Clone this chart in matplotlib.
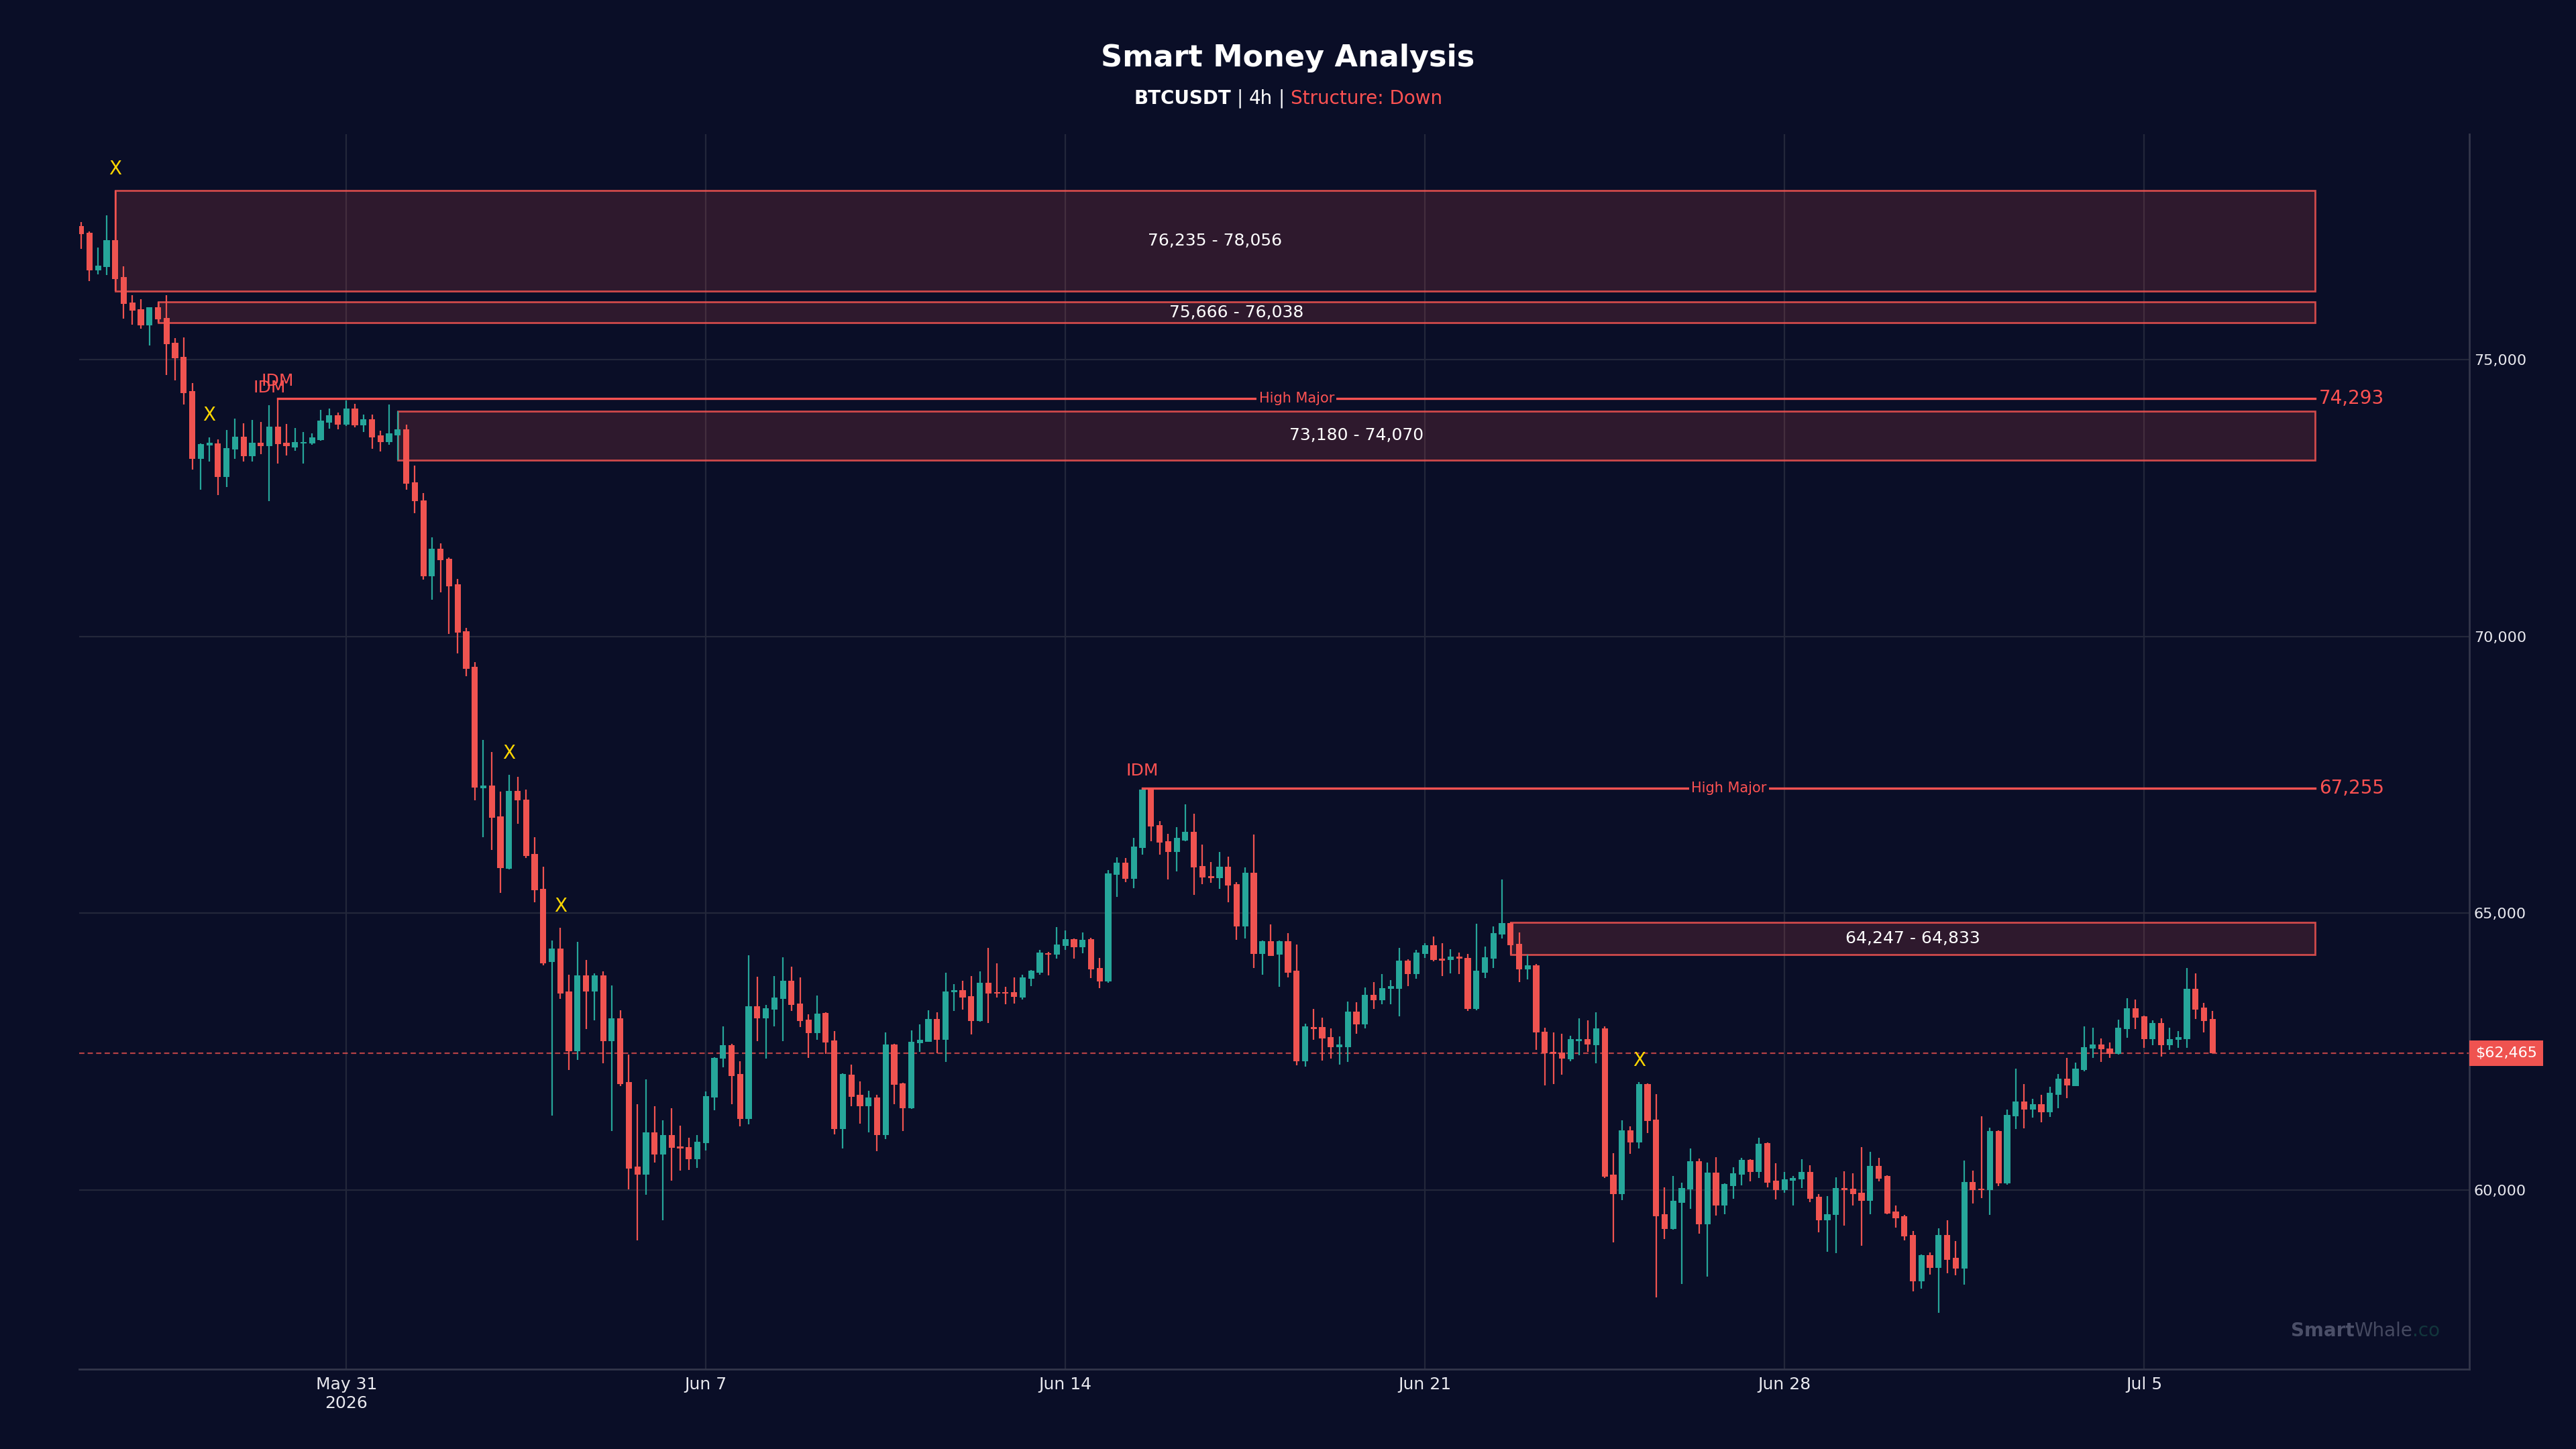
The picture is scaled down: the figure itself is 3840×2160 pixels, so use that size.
import numpy as np
import pandas as pd
import matplotlib
matplotlib.use("Agg")
import matplotlib.pyplot as plt
import matplotlib.dates as mdates
import matplotlib.transforms as mtransforms
from matplotlib.patches import Rectangle
from matplotlib.ticker import FuncFormatter, MultipleLocator

# ---------------- data ----------------
symbol = "BTCUSDT"
timeframe = "4h"
structure = "Down"
start_time = "2026-05-25 20:00"

opens = [
    77409, 77288, 76610, 76668, 77156, 76484, 76032, 75906, 75611, 75948,
    75748, 75307, 75049, 74424, 73205, 73451, 73483, 72879, 73373, 73604,
    73252, 73493, 73441, 73783, 73493, 73415, 73483, 73483, 73546, 73861,
    73988, 73825, 74114, 73814, 73925, 73625, 73504, 73635, 73741, 72784,
    72458, 71087, 71576, 71404, 70938, 70089, 69446, 67261, 67303, 66744,
    65801, 67210, 67054, 66070, 65439, 64113, 64362, 63585, 62508, 63875,
    63585, 63875, 62684, 63098, 61948, 60426, 60271, 61037, 60644, 60996,
    60789, 60768, 60551, 60841, 61669, 62373, 62612, 62094, 61286, 63316,
    63098, 63254, 63451, 63772, 63368, 63079, 62828, 63195, 62703, 61094,
    62086, 61715, 61507, 61674, 60992, 62624, 61929, 61474, 62652, 62680,
    63093, 62708, 63566, 63612, 63505, 63055, 63746, 63575, 63575, 63566,
    63477, 63816, 63923, 64275, 64247, 64409, 64535, 64382, 64535, 64006,
    63765, 65690, 65912, 65621, 66174, 67240, 66591, 66299, 66109, 66315,
    66472, 65855, 65666, 65628, 65834, 65525, 64757, 65731, 64260, 64497,
    64249, 64497, 63962, 62329, 62940, 62940, 62761, 62583, 62583, 63216,
    62988, 63529, 63421, 63632, 63632, 64146, 63897, 64260, 64416, 64178,
    64151, 64216, 64195, 63270, 63919, 64178, 64611, 64821, 64443, 63981,
    64054, 62858, 62496, 62479, 62357, 62691, 62719, 62619, 62913, 60271,
    59920, 61078, 60855, 61912, 61267, 59559, 59297, 59765, 60004, 60521,
    59381, 60310, 59715, 60065, 60271, 60543, 60327, 60844, 60171, 59993,
    60171, 60187, 60327, 59870, 59447, 59548, 60032, 60021, 59948, 59798,
    60435, 60253, 59611, 59524, 59189, 58355, 58820, 58595, 59189, 58772,
    58581, 60138, 60018, 59994, 61058, 60114, 61326, 61599, 61446, 61551,
    61398, 61723, 62006, 61877, 62164, 62548, 62624, 62557, 62452, 62902,
    63285, 63132, 62725, 63012, 62615, 62711, 62725, 63635, 63290, 63084,
]
highs = [
    77477, 77319, 77025, 77598, 78056, 76683, 76158, 76084, 75948, 76038,
    76158, 75385, 75396, 74571, 73483, 73599, 73562, 73730, 73935, 73851,
    73909, 73872, 74177, 74293, 73830, 73767, 73688, 73662, 74088, 74119,
    74040, 74256, 74203, 74004, 74004, 73714, 74187, 74070, 73820, 73084,
    72590, 71786, 71681, 71430, 71031, 70151, 69529, 68131, 67914, 67199,
    67499, 67458, 67230, 66371, 65843, 64507, 64734, 63886, 64476, 64155,
    63916, 63948, 63689, 63243, 62446, 61545, 62000, 61514, 61255, 61472,
    61162, 60944, 60986, 61773, 62394, 62953, 62643, 62322, 64237, 63855,
    63336, 63864, 64196, 64030, 63844, 63176, 63515, 63210, 62875, 62110,
    62263, 61957, 61785, 61720, 62847, 62633, 61940, 62884, 62986, 63246,
    63213, 63918, 63714, 63779, 63858, 63946, 64372, 64089, 63672, 63834,
    63886, 63970, 64331, 64303, 64748, 64692, 64544, 64646, 64550, 64187,
    65783, 66005, 65993, 66356, 67255, 67248, 66666, 66434, 66553, 66969,
    66796, 66234, 65920, 66099, 66023, 65558, 65828, 66423, 64508, 64795,
    64510, 64638, 64433, 63000, 63270, 63107, 62913, 62772, 63405, 63389,
    63654, 63757, 63897, 63789, 64373, 64168, 64341, 64460, 64578, 64460,
    64346, 64292, 64265, 64806, 64395, 64757, 65612, 64833, 64649, 64249,
    64082, 62924, 62841, 62824, 62786, 63102, 63064, 63214, 62952, 60660,
    61255, 61150, 61951, 61925, 61734, 60043, 60254, 60132, 60744, 60566,
    60493, 60588, 60115, 60410, 60577, 60555, 60939, 60855, 60477, 60327,
    60254, 60549, 60449, 59926, 59893, 60226, 60338, 60299, 60772, 60684,
    60583, 60267, 59716, 59548, 59261, 58830, 58868, 59309, 59453, 59074,
    60535, 60344, 61335, 61120, 61070, 61455, 62193, 61910, 61647, 61719,
    61858, 62088, 62389, 62294, 62955, 62931, 62739, 62667, 63075, 63458,
    63443, 63145, 63060, 63099, 62931, 62869, 64004, 63908, 63381, 63237,
]
lows = [
    77004, 76421, 76541, 76526, 76235, 75737, 75627, 75553, 75259, 75666,
    74718, 74623, 74192, 73015, 72653, 73162, 72548, 72695, 73205, 73152,
    73162, 73294, 72442, 73126, 73268, 73352, 73126, 73457, 73536, 73756,
    73741, 73799, 73772, 73688, 73388, 73336, 73457, 73180, 72653, 72222,
    71024, 70656, 70798, 70037, 69695, 69281, 67034, 66371, 66143, 65366,
    65791, 66609, 66000, 65190, 64051, 61338, 63451, 62166, 62343, 62902,
    63057, 62291, 61069, 61880, 60012, 59090, 59909, 60489, 59453, 60168,
    60354, 60364, 60395, 60717, 61441, 62218, 61545, 61151, 61183, 62684,
    62373, 62953, 62684, 63233, 62943, 62383, 62708, 62453, 61001, 60746,
    61516, 61191, 61038, 60695, 60922, 61548, 61066, 61460, 62499, 62670,
    62471, 62309, 63236, 63260, 62805, 63040, 63014, 63473, 63357, 63366,
    63440, 63686, 63886, 63872, 64182, 64331, 64182, 64280, 63830, 63649,
    63740, 65294, 65561, 65456, 66053, 66296, 66055, 65612, 65758, 66299,
    65325, 65520, 65552, 65433, 65201, 64519, 64541, 64011, 63881, 64222,
    63665, 63843, 62253, 62231, 62707, 62339, 62372, 62269, 62312, 62826,
    62918, 63270, 63356, 63356, 63140, 63681, 63816, 64189, 64124, 63865,
    63908, 63903, 63227, 63250, 63827, 64005, 64541, 64247, 63759, 63803,
    62524, 61884, 61912, 62079, 62329, 62429, 62496, 62290, 60220, 59058,
    59815, 60649, 60744, 61033, 58062, 59114, 59280, 58296, 59659, 59214,
    58435, 59537, 59559, 59837, 60076, 60160, 60215, 60048, 59826, 59948,
    59715, 60032, 59781, 59231, 58880, 58864, 59353, 59715, 58991, 59564,
    60152, 59563, 59323, 59093, 58173, 58221, 58475, 57776, 58499, 58461,
    58293, 59754, 59850, 59548, 60075, 60100, 61096, 61110, 61302, 61225,
    61312, 61474, 61656, 61872, 62140, 62380, 62308, 62380, 62442, 62749,
    62902, 62567, 62619, 62404, 62533, 62567, 62572, 63089, 62845, 62465,
]
closes = [
    77267, 76610, 76694, 77156, 76457, 76005, 75879, 75611, 75948, 75722,
    75275, 75017, 74397, 73205, 73467, 73493, 72879, 73399, 73604, 73252,
    73493, 73430, 73783, 73467, 73430, 73504, 73514, 73588, 73898, 73988,
    73825, 74114, 73809, 73925, 73599, 73504, 73662, 73741, 72758, 72442,
    71087, 71576, 71376, 70907, 70068, 69415, 67272, 67303, 66723, 65812,
    67210, 67034, 66029, 65408, 64093, 64362, 63544, 62508, 63875, 63585,
    63875, 62684, 63098, 61907, 60385, 60271, 61037, 60644, 60996, 60758,
    60748, 60551, 60872, 61690, 62384, 62612, 62063, 61286, 63316, 63098,
    63275, 63471, 63772, 63347, 63047, 62828, 63190, 62666, 61094, 62091,
    61683, 61507, 61674, 60992, 62624, 61901, 61474, 62671, 62708, 63093,
    62708, 63584, 63612, 63477, 63055, 63746, 63547, 63547, 63542, 63487,
    63844, 63955, 64289, 64256, 64433, 64525, 64382, 64516, 63983, 63765,
    65722, 65912, 65621, 66207, 67230, 66566, 66272, 66109, 66353, 66472,
    65828, 65639, 65628, 65834, 65493, 64757, 65731, 64260, 64497, 64227,
    64497, 63919, 62329, 62951, 62907, 62734, 62583, 62621, 63216, 62988,
    63529, 63421, 63648, 63675, 64146, 63897, 64292, 64416, 64151, 64146,
    64216, 64173, 63270, 63957, 64205, 64638, 64822, 64420, 63981, 64054,
    62841, 62468, 62457, 62368, 62719, 62719, 62624, 62913, 60243, 59920,
    61078, 60855, 61912, 61244, 59520, 59297, 59798, 60032, 60521, 59381,
    60310, 59715, 60104, 60299, 60543, 60327, 60838, 60132, 59993, 60187,
    60210, 60327, 59837, 59447, 59559, 60032, 59993, 59926, 59798, 60435,
    60209, 59577, 59491, 59156, 58355, 58820, 58595, 59189, 58739, 58581,
    60138, 59994, 59994, 61058, 60114, 61350, 61599, 61446, 61551, 61407,
    61752, 62006, 61886, 62188, 62581, 62624, 62543, 62452, 62926, 63285,
    63108, 62725, 63012, 62615, 62725, 62758, 63635, 63261, 63051, 62465,
]

# order blocks (start candle index, low, high)
zone_start = [4, 9, 37, 167]
zone_low = [76235, 75666, 73180, 64247]
zone_high = [78056, 76038, 74070, 64833]

# high-major (IDM) levels
major_start = [23, 124]
major_level = [74293, 67255]
major_label = ["High Major", "High Major"]

idm_idx = [22, 23, 124]
sweep_idx = [4, 15, 50, 56, 182]

# ---------------- style ----------------
BG = "#0a0e27"
GREEN = "#26a69a"
RED = "#ef5350"
RED_TXT = "#ff5252"
GRID = "#23273a"
SPINE = "#33364a"
TXT = "#e8e8ee"
GOLD = "#ffd700"

dates = pd.date_range(start_time, periods=len(opens), freq="4h")
x = mdates.date2num(dates.to_pydatetime())
o = np.array(opens, float)
h = np.array(highs, float)
l = np.array(lows, float)
c = np.array(closes, float)
up = c >= o
cols = np.where(up, GREEN, RED)

DPI = 200
fig = plt.figure(figsize=(19.2, 10.8), dpi=DPI, facecolor=BG)
ax = fig.add_axes([0.0306, 0.0551, 0.928, 0.8523])
ax.set_facecolor(BG)

# candles
body_w = 0.72 * (4 / 24)
ax.vlines(x, l, h, colors=cols, linewidth=0.8, zorder=3)
body_h = np.maximum(np.abs(c - o), 12)
ax.bar(x, body_h, bottom=np.minimum(o, c), width=body_w, color=cols,
       linewidth=0, zorder=4)

x_end = x[-1] + 2.0  # zones / levels extend 2 days past the last candle

# zones
for si, lo, hi in zip(zone_start, zone_low, zone_high):
    x0 = x[si]
    ax.add_patch(Rectangle((x0, lo), x_end - x0, hi - lo,
                           facecolor=(0.937, 0.325, 0.314, 0.16),
                           edgecolor=(0.937, 0.325, 0.314, 0.85),
                           linewidth=1.0, zorder=2))
    ax.text((x0 + x_end) / 2, (lo + hi) / 2, f"{lo:,.0f} - {hi:,.0f}",
            color="white", fontsize=9, ha="center", va="center", zorder=6)

# high major lines
for si, lvl, lab in zip(major_start, major_level, major_label):
    x0 = x[si]
    ax.plot([x0, x_end], [lvl, lvl], color=RED_TXT, linewidth=1.2, zorder=5)
    ax.text((x0 + x_end) / 2, lvl, lab, color=RED_TXT, fontsize=7.5,
            ha="center", va="center", zorder=6,
            bbox=dict(boxstyle="square,pad=0.15", fc=BG, ec="none"))
    ax.annotate(f"{lvl:,.0f}", xy=(x_end, lvl), xytext=(2, 0),
                textcoords="offset points", color=RED_TXT, fontsize=10,
                ha="left", va="center", zorder=6)

# IDM labels
for i in idm_idx:
    ax.text(x[i], h[i] + 315, "IDM", color=RED_TXT, fontsize=9,
            ha="center", va="center", zorder=6)

# sweep markers
for i in sweep_idx:
    ax.text(x[i], h[i] + 390, "X", color=GOLD, fontsize=10,
            ha="center", va="center", zorder=6)

# current price
last = c[-1]
ax.axhline(last, color=RED, linewidth=0.8, linestyle=(0, (3.5, 2.2)),
           alpha=0.75, zorder=2.5)
trans = mtransforms.blended_transform_factory(ax.transAxes, ax.transData)
ax.text(1.0025, last, f"${last:,.0f}", transform=trans, color="white",
        fontsize=8, ha="left", va="center", zorder=7, clip_on=False,
        bbox=dict(boxstyle="square,pad=0.4", fc=RED, ec="none"))

# limits
rng = h.max() - l.min()
ax.set_ylim(l.min() - 0.05 * rng, h.max() + 0.05 * rng)
ax.set_xlim(x[0] - 1 / 24, x[-1] + 5.0)

# axes styling
ax.yaxis.tick_right()
ax.yaxis.set_major_locator(MultipleLocator(5000))
ax.yaxis.set_major_formatter(FuncFormatter(lambda v, p: f"{v:,.0f}"))
ax.xaxis.set_major_locator(mdates.WeekdayLocator(byweekday=mdates.SU))


def xfmt(v, pos):
    d = mdates.num2date(v)
    s = f"{d:%b} {d.day}"
    if pos == 0:
        s += f"\n{d.year}"
    return s


ax.xaxis.set_major_formatter(FuncFormatter(xfmt))
ax.tick_params(axis="y", colors=TXT, labelsize=8, length=0, pad=2.5)
ax.tick_params(axis="x", colors=TXT, labelsize=9, length=0, pad=4)
for lab in ax.get_xticklabels() + ax.get_yticklabels():
    lab.set_color(TXT)
ax.grid(True, color=GRID, linewidth=0.8)
ax.set_axisbelow(True)
for side in ["top", "left"]:
    ax.spines[side].set_visible(False)
for side in ["bottom", "right"]:
    ax.spines[side].set_color(SPINE)
    ax.spines[side].set_linewidth(1.0)

# titles
fig.text(0.5, 0.960, "Smart Money Analysis", color="white", fontsize=16,
         fontweight="bold", ha="center", va="center")

renderer = fig.canvas.get_renderer()
space_px = 0.318 * 10 * DPI / 72
parts = [
    (symbol, dict(color="white", fontweight="bold")),
    ("|", dict(color="white")),
    (timeframe, dict(color="white")),
    ("|", dict(color="white")),
    (f"Structure: {structure}", dict(color=RED_TXT)),
]
txts = [fig.text(0, 0.932, s, fontsize=10, ha="left", va="center", **kw)
        for s, kw in parts]
widths = [t.get_window_extent(renderer).width for t in txts]
total = sum(widths) + space_px * (len(txts) - 1)
W = fig.bbox.width
cur = W / 2 - total / 2
for t, w in zip(txts, widths):
    t.set_x(cur / W)
    cur += w + space_px

# watermark
wm_parts = [
    ("Smart", dict(color="#4b4f68", fontweight="bold")),
    ("Whale", dict(color="#454960")),
    (".co", dict(color="#12363c")),
]
wm = [ax.text(0, 0.031, s, transform=ax.transAxes, fontsize=10, ha="left",
              va="center", zorder=1, **kw) for s, kw in wm_parts]
wwidths = [t.get_window_extent(renderer).width for t in wm]
axw = ax.bbox.width
right_px = 0.9877 * axw
cur = right_px - sum(wwidths)
for t, w in zip(wm, wwidths):
    t.set_x(cur / axw)
    cur += w

fig.savefig("out.png", dpi=DPI, facecolor=BG)
